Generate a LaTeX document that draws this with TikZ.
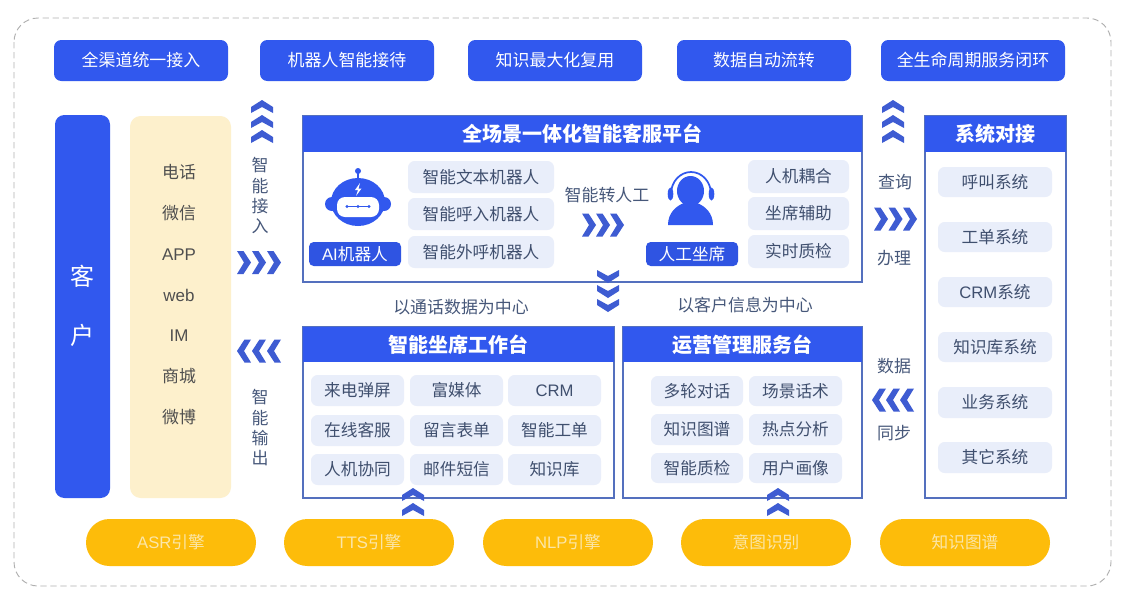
\documentclass[tikz,border=0pt]{standalone}
\usepackage{fontspec}
\setmainfont{Noto Sans CJK SC}
\newfontfamily\lat{Liberation Sans}
\definecolor{mainblue}{HTML}{3158EE}
\definecolor{chevblue}{HTML}{3E5CD2}
\definecolor{framecol}{HTML}{5470BE}
\definecolor{pillfill}{HTML}{E9EEFA}
\definecolor{pilltext}{HTML}{3F4F6E}
\definecolor{labeltext}{HTML}{47587A}
\definecolor{creamfill}{HTML}{FDF0CC}
\definecolor{creamtext}{HTML}{4F4F4F}
\definecolor{amber}{HTML}{FDBC0A}
\definecolor{ambertext}{HTML}{FBE6A8}
\definecolor{dashcol}{HTML}{B0B0B0}
\tikzset{
  basebox/.style={inner sep=0pt,outer sep=0pt,align=center,text height=11.5pt,text depth=1.9pt},
  topbtn/.style={basebox,fill=mainblue,rounded corners=5.5pt,text=white,font=\fontsize{12.7}{15}\selectfont},
  custbar/.style={basebox,fill=mainblue,rounded corners=7pt},
  creambar/.style={basebox,fill=creamfill,rounded corners=8pt},
  panel/.style={basebox,draw=framecol,line width=0.95pt,fill=white},
  header/.style={basebox,fill=mainblue,text=white,text height=13.4pt,text depth=1.6pt,font=\fontsize{15}{18}\selectfont\bfseries},
  pill/.style={basebox,fill=pillfill,rounded corners=5pt,text=pilltext,font=\fontsize{12.5}{15}\selectfont},
  tag/.style={basebox,fill=mainblue!95!black,rounded corners=3.5pt,text=white,font=\fontsize{12.5}{15}\selectfont},
  engine/.style={basebox,fill=amber,rounded corners=17.6pt,text=ambertext,font=\fontsize{12.5}{15}\selectfont},
  lab/.style={inner sep=0pt,text=labeltext,text height=11.5pt,text depth=1.9pt,font=\fontsize{12.7}{14}\selectfont},
  creamlab/.style={inner sep=0pt,text=creamtext,text height=11.5pt,text depth=1.9pt,font=\fontsize{12.7}{14}\selectfont},
  custlab/.style={inner sep=0pt,text=white,text height=16pt,text depth=2.4pt,font=\fontsize{18}{20}\selectfont},
  chevup/.pic={\fill[chevblue] (-11,0.5)--(0,-6.5)--(11,0.5)--(11,6.5)--(0,0.5)--(-11,6.5)--cycle;},
  chevdown/.pic={\fill[chevblue] (-11,-0.5)--(0,6.5)--(11,-0.5)--(11,-6.5)--(0,-0.5)--(-11,-6.5)--cycle;},
  chevright/.pic={\fill[chevblue] (-7,-11.5)--(-0.5,-11.5)--(7,0)--(-0.5,11.5)--(-7,11.5)--(0,0)--cycle;},
  chevleft/.pic={\fill[chevblue] (7,-11.5)--(0.5,-11.5)--(-7,0)--(0.5,11.5)--(7,11.5)--(0,0)--cycle;},
}
% style, name, x1, y1, x2, y2, text (pixel corners of the reference)
\newcommand{\pxbox}[7]{%
  \pgfmathsetmacro{\pxw}{(#5-#3)*0.75}%
  \pgfmathsetmacro{\pxh}{(#6-#4)*0.75}%
  \pgfmathsetmacro{\pxx}{(#3+#5)/2}%
  \pgfmathsetmacro{\pxy}{(#4+#6)/2}%
  \node[#1,minimum width=\pxw pt,minimum height=\pxh pt] (#2) at (\pxx,\pxy) {#7};}
\begin{document}
\begin{tikzpicture}[x=0.75pt,y=-0.75pt]
\useasboundingbox (0,0) rectangle (1135,604);
\fill[white] (0,0) rectangle (1135,604);
% outer dashed frame
\draw[dashcol,line width=0.7pt,dash pattern=on 4.7pt off 2.8pt,rounded corners=18pt] (14,18) rectangle (1111,586);
% top buttons
\pxbox{topbtn}{t1}{54}{40}{228}{81}{全渠道统一接入}
\pxbox{topbtn}{t2}{260}{40}{434}{81}{机器人智能接待}
\pxbox{topbtn}{t3}{468}{40}{642}{81}{知识最大化复用}
\pxbox{topbtn}{t4}{677}{40}{851}{81}{数据自动流转}
\pxbox{topbtn}{t5}{881}{40}{1065}{81}{全生命周期服务闭环}
% customer column
\pxbox{custbar}{cust}{55}{115}{110}{498}{}
\node[custlab] (k1) at (82,276) {客};
\node[custlab] (k2) at (82,335) {户};
% channels
\pxbox{creambar}{chan}{130}{116}{231}{498}{}
\node[creamlab] (c1) at (179,172) {电话};
\node[creamlab] (c2) at (179,213) {微信};
\node[creamlab] (c3) at (179,254) {\lat APP};
\node[creamlab] (c4) at (179,295) {\lat web};
\node[creamlab] (c5) at (179,335) {\lat IM};
\node[creamlab] (c6) at (179,376) {商城};
\node[creamlab] (c7) at (179,417) {微博};
% vertical labels
\node[lab] (a1) at (260,165) {智};
\node[lab] (a2) at (260,186) {能};
\node[lab] (a3) at (260,206) {接};
\node[lab] (a4) at (260,226) {入};
\node[lab] (b1) at (260,397) {智};
\node[lab] (b2) at (260,418) {能};
\node[lab] (b3) at (260,438) {输};
\node[lab] (b4) at (260,458) {出};
% main platform panel
\pxbox{panel}{plat}{303}{116}{862}{282}{}
\pxbox{header}{plathd}{303}{116}{862}{152}{全场景一体化智能客服平台}
\pxbox{pill}{p1}{408}{161}{554}{193}{智能文本机器人}
\pxbox{pill}{p2}{408}{198}{554}{230}{智能呼入机器人}
\pxbox{pill}{p3}{408}{236}{554}{268}{智能外呼机器人}
\pxbox{pill}{p4}{748}{160}{849}{193}{人机耦合}
\pxbox{pill}{p5}{748}{197}{849}{230}{坐席辅助}
\pxbox{pill}{p6}{748}{235}{849}{268}{实时质检}
\pxbox{tag}{aitag}{309}{242}{401}{266}{{\lat AI}机器人}
\pxbox{tag}{hutag}{646}{242}{738}{266}{人工坐席}
\node[lab] (turn) at (607,195) {智能转人工};
% robot icon
\fill[mainblue] (358,171) circle (3);
\draw[mainblue,line width=1pt] (358,171) -- (358,180);
\fill[mainblue] (332,204) circle (7);
\fill[mainblue] (384,204) circle (7);
\fill[mainblue] (358,202) ellipse (27 and 24);
\fill[white,rounded corners=6pt] (337,197) rectangle (379,217);
\draw[mainblue,line width=0.8pt] (346,206.5) -- (370,206.5);
\fill[mainblue] (347,206.5) circle (1.6) (358,206.5) circle (1.6) (369,206.5) circle (1.6);
\fill[white] (360,183)--(355,190)--(358,190)--(356,196)--(361.5,188.5)--(358.5,188.5)--cycle;
% agent icon
\draw[mainblue,line width=1.3pt] (671,194) arc[start angle=180,end angle=360,x radius=20,y radius=22];
\fill[mainblue] (670.5,194) ellipse (2.8 and 6.5);
\fill[mainblue] (711.5,194) ellipse (2.8 and 6.5);
\fill[mainblue] (690.5,191) ellipse (13.5 and 15);
\fill[mainblue] (668,225) .. controls (668,213) and (676,206) .. (684,203) -- (697,203) .. controls (705,206) and (713,213) .. (713,225) -- cycle;
% captions
\node[lab] (cap1) at (461,307) {以通话数据为中心};
\node[lab] (cap2) at (745,305) {以客户信息为中心};
% agent workbench
\pxbox{panel}{work}{303}{327}{614}{498}{}
\pxbox{header}{workhd}{303}{327}{614}{362}{智能坐席工作台}
\pxbox{pill}{w1}{311}{375}{404}{406}{来电弹屏}
\pxbox{pill}{w2}{410}{375}{503}{406}{富媒体}
\pxbox{pill}{w3}{508}{375}{601}{406}{\lat CRM}
\pxbox{pill}{w4}{311}{415}{404}{446}{在线客服}
\pxbox{pill}{w5}{410}{415}{503}{446}{留言表单}
\pxbox{pill}{w6}{508}{415}{601}{446}{智能工单}
\pxbox{pill}{w7}{311}{454}{404}{485}{人机协同}
\pxbox{pill}{w8}{410}{454}{503}{485}{邮件短信}
\pxbox{pill}{w9}{508}{454}{601}{485}{知识库}
% operations desk
\pxbox{panel}{ops}{623}{327}{862}{498}{}
\pxbox{header}{opshd}{623}{327}{862}{362}{运营管理服务台}
\pxbox{pill}{o1}{651}{376}{743}{406}{多轮对话}
\pxbox{pill}{o2}{749}{376}{842}{406}{场景话术}
\pxbox{pill}{o3}{651}{414}{743}{445}{知识图谱}
\pxbox{pill}{o4}{749}{414}{842}{445}{热点分析}
\pxbox{pill}{o5}{651}{453}{743}{483}{智能质检}
\pxbox{pill}{o6}{749}{453}{842}{483}{用户画像}
% systems
\pxbox{panel}{sys}{925}{116}{1066}{498}{}
\pxbox{header}{syshd}{925}{116}{1066}{152}{系统对接}
\pxbox{pill}{s1}{938}{167}{1052}{197}{呼叫系统}
\pxbox{pill}{s2}{938}{222}{1052}{252}{工单系统}
\pxbox{pill}{s3}{938}{277}{1052}{307}{{\lat CRM}系统}
\pxbox{pill}{s4}{938}{332}{1052}{362}{知识库系统}
\pxbox{pill}{s5}{938}{387}{1052}{418}{业务系统}
\pxbox{pill}{s6}{938}{442}{1052}{473}{其它系统}
\node[lab] (q1) at (895,182) {查询};
\node[lab] (q2) at (894,258) {办理};
\node[lab] (q3) at (894,366) {数据};
\node[lab] (q4) at (894,433) {同步};
% engines
\pxbox{engine}{e1}{86}{519}{256}{566}{{\lat ASR}引擎}
\pxbox{engine}{e2}{284}{519}{454}{566}{{\lat TTS}引擎}
\pxbox{engine}{e3}{483}{519}{653}{566}{{\lat NLP}引擎}
\pxbox{engine}{e4}{681}{519}{851}{566}{意图识别}
\pxbox{engine}{e5}{880}{519}{1050}{566}{知识图谱}
% chevrons
\foreach \yy in {106.5,121.5,136.5} {
  \pic at (262,\yy) {chevup};
  \pic at (893,\yy) {chevup};
}
\foreach \yy in {494.5,509.5} {
  \pic at (413,\yy) {chevup};
  \pic at (778,\yy) {chevup};
}
\foreach \yy in {276.5,291.5,305.5} { \pic at (608,\yy) {chevdown}; }
\foreach \xx in {244,259,274} { \pic at (\xx,262.5) {chevright}; }
\foreach \xx in {589,603,617} { \pic at (\xx,225) {chevright}; }
\foreach \xx in {881,895.5,910} { \pic at (\xx,219) {chevright}; }
\foreach \xx in {244,259,274} { \pic at (\xx,351) {chevleft}; }
\foreach \xx in {879,893,907} { \pic at (\xx,400) {chevleft}; }
\end{tikzpicture}
\end{document}
